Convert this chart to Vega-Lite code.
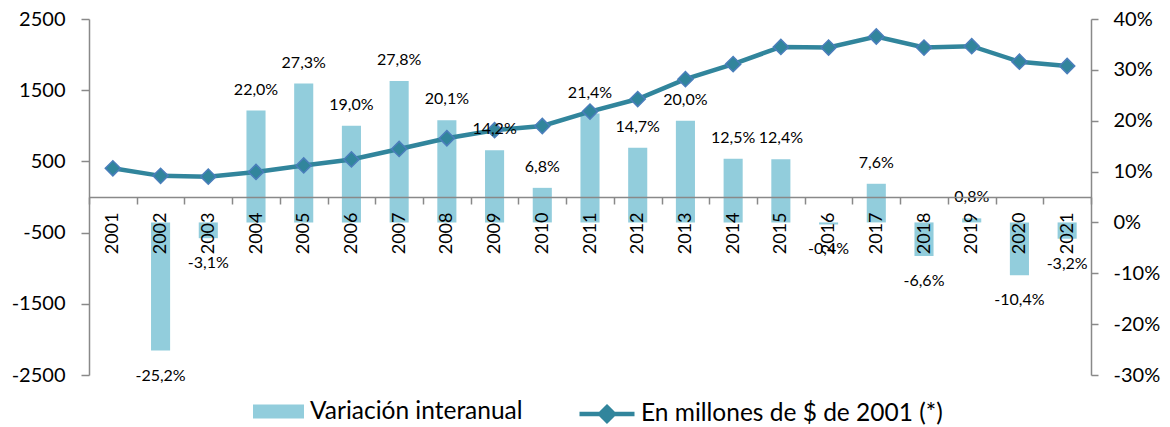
{
  "$schema": "https://vega.github.io/schema/vega-lite/v6.json",
  "width": 1002,
  "height": 356,
  "autosize": {"type": "none"},
  "padding": {"left": 89, "top": 19, "right": 79, "bottom": 52},
  "data": {
    "values": [
      {"anio": "2001", "valor": 403, "var": null},
      {"anio": "2002", "valor": 297, "var": -0.252},
      {"anio": "2003", "valor": 286, "var": -0.031},
      {"anio": "2004", "valor": 352, "var": 0.220},
      {"anio": "2005", "valor": 443, "var": 0.273},
      {"anio": "2006", "valor": 528, "var": 0.190},
      {"anio": "2007", "valor": 675, "var": 0.278},
      {"anio": "2008", "valor": 825, "var": 0.201},
      {"anio": "2009", "valor": 938, "var": 0.142},
      {"anio": "2010", "valor": 997, "var": 0.068},
      {"anio": "2011", "valor": 1200, "var": 0.214},
      {"anio": "2012", "valor": 1376, "var": 0.147},
      {"anio": "2013", "valor": 1655, "var": 0.200},
      {"anio": "2014", "valor": 1866, "var": 0.125},
      {"anio": "2015", "valor": 2108, "var": 0.124},
      {"anio": "2016", "valor": 2099, "var": -0.004},
      {"anio": "2017", "valor": 2254, "var": 0.076},
      {"anio": "2018", "valor": 2099, "var": -0.066},
      {"anio": "2019", "valor": 2118, "var": 0.008},
      {"anio": "2020", "valor": 1900, "var": -0.104},
      {"anio": "2021", "valor": 1840, "var": -0.032}
    ]
  },
  "encoding": {
    "x": {
      "field": "anio",
      "type": "ordinal",
      "scale": {"paddingInner": 0, "paddingOuter": 0},
      "axis": {
        "title": null,
        "orient": "bottom",
        "offset": -178,
        "tickBand": "extent",
        "tickSize": 7,
        "tickWidth": 1.5,
        "tickColor": "#898989",
        "domainColor": "#898989",
        "domainWidth": 1.5,
        "labelAngle": -90,
        "labelFont": "Lato",
        "labelFontSize": 18,
        "labelColor": "#000000",
        "labelPadding": 8,
        "grid": false,
        "zindex": 1
      }
    }
  },
  "layer": [
    {
      "mark": {"type": "bar", "width": {"band": 0.4}},
      "encoding": {
        "y": {
          "field": "var",
          "type": "quantitative",
          "scale": {"domain": [-0.3, 0.4], "nice": false, "zero": false},
          "axis": {
            "orient": "right",
            "title": null,
            "values": [-0.3, -0.2, -0.1, 0, 0.1, 0.2, 0.3, 0.4],
            "format": ".0%",
            "tickSize": 7,
            "tickWidth": 1.5,
            "labelPadding": 15,
            "labelFont": "Lato",
            "labelFontSize": 20,
            "labelColor": "#000000",
            "domainColor": "#898989",
            "domainWidth": 1.5,
            "tickColor": "#898989",
            "grid": false
          }
        },
        "fill": {
          "datum": "Variación interanual",
          "type": "nominal",
          "scale": {"range": ["#92CDDC"]},
          "legend": {
            "title": null,
            "orient": "none",
            "legendX": 164,
            "legendY": 367,
            "padding": 0,
            "symbolType": "M-1,-0.275H1V0.275H-1Z",
            "symbolSize": 2601,
            "symbolStrokeWidth": 0,
            "symbolOpacity": 1,
            "labelFont": "Lato",
            "labelFontSize": 24.5,
            "labelColor": "#000000",
            "labelOffset": 6,
            "labelLimit": 500
          }
        }
      }
    },
    {
      "encoding": {
        "y": {
          "field": "valor",
          "type": "quantitative",
          "scale": {"domain": [-2500, 2500], "nice": false, "zero": false},
          "axis": {
            "orient": "left",
            "title": null,
            "values": [-2500, -1500, -500, 500, 1500, 2500],
            "format": "d",
            "tickSize": 8,
            "tickWidth": 1.5,
            "labelPadding": 16,
            "labelFont": "Lato",
            "labelFontSize": 20,
            "labelColor": "#000000",
            "domainColor": "#898989",
            "domainWidth": 1.5,
            "tickColor": "#898989",
            "grid": false
          }
        }
      },
      "layer": [
        {
          "mark": {"type": "line", "strokeWidth": 4.5},
          "encoding": {
            "stroke": {
              "datum": "En millones de $ de 2001 (*)",
              "type": "nominal",
              "scale": {"range": ["#31859C"]},
              "legend": {
                "title": null,
                "orient": "none",
                "legendX": 488,
                "legendY": 365,
                "padding": 0,
                "symbolType": "M-1,0H1M0,-0.25L0.25,0L0,0.25L-0.25,0Z",
                "symbolSize": 3025,
                "symbolStrokeWidth": 4.5,
                "symbolOpacity": 1,
                "labelFont": "Lato",
                "labelFontSize": 24.5,
                "labelColor": "#000000",
                "labelOffset": 4,
                "labelLimit": 500,
                "encode": {"symbols": {"update": {"fill": {"value": "#31859C"}}}}
              }
            }
          }
        },
        {
          "mark": {"type": "point", "shape": "diamond", "filled": true, "fill": "#31859C", "stroke": "#4A7EBB", "strokeWidth": 1.5, "size": 230, "opacity": 1}
        }
      ]
    },
    {
      "encoding": {
        "y": {
          "field": "var",
          "type": "quantitative",
          "scale": {"domain": [-0.3, 0.4], "nice": false, "zero": false},
          "axis": null
        },
        "text": {"field": "var", "type": "quantitative", "format": ".1%"}
      },
      "layer": [
        {
          "transform": [{"filter": "datum.var > 0"}],
          "mark": {"type": "text", "font": "Lato", "fontSize": 16, "color": "#000000", "baseline": "alphabetic", "dy": -16}
        },
        {
          "transform": [{"filter": "datum.var < 0"}],
          "mark": {"type": "text", "font": "Lato", "fontSize": 16, "color": "#000000", "baseline": "alphabetic", "dy": 30}
        }
      ]
    }
  ],
  "resolve": {"scale": {"y": "independent"}},
  "config": {
    "view": {"stroke": null},
    "font": "Lato",
    "axis": {"grid": false},
    "locale": {
      "number": {"decimal": ",", "thousands": ".", "grouping": [3], "currency": ["$", ""], "minus": "-"}
    }
  }
}
